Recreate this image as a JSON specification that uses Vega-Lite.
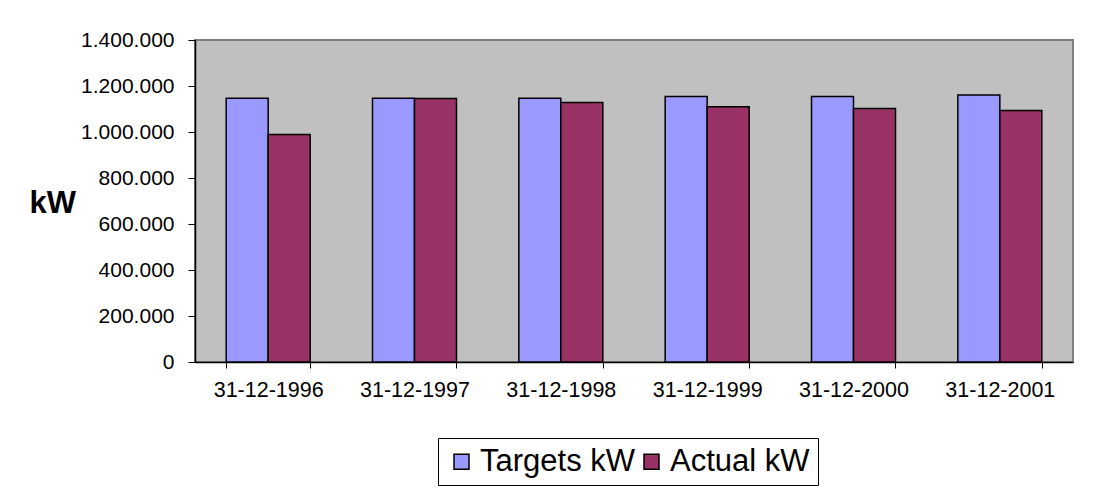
{
  "$schema": "https://vega.github.io/schema/vega-lite/v6.json",
  "autosize": {"type": "none"},
  "padding": {"left": 195, "top": 40, "right": 20, "bottom": 134},
  "width": 878,
  "height": 322,
  "background": "white",
  "data": {
    "values": [
      {"date": "31-12-1996", "series": "Targets kW", "kw": 1147000},
      {"date": "31-12-1996", "series": "Actual kW", "kw": 989000},
      {"date": "31-12-1997", "series": "Targets kW", "kw": 1147000},
      {"date": "31-12-1997", "series": "Actual kW", "kw": 1146000},
      {"date": "31-12-1998", "series": "Targets kW", "kw": 1147000},
      {"date": "31-12-1998", "series": "Actual kW", "kw": 1128000},
      {"date": "31-12-1999", "series": "Targets kW", "kw": 1154000},
      {"date": "31-12-1999", "series": "Actual kW", "kw": 1110000},
      {"date": "31-12-2000", "series": "Targets kW", "kw": 1154000},
      {"date": "31-12-2000", "series": "Actual kW", "kw": 1102000},
      {"date": "31-12-2001", "series": "Targets kW", "kw": 1161000},
      {"date": "31-12-2001", "series": "Actual kW", "kw": 1093000}
    ]
  },
  "mark": {"type": "bar", "stroke": "black", "strokeWidth": 1.5},
  "encoding": {
    "x": {
      "field": "date",
      "type": "nominal",
      "scale": {"paddingInner": 0.426, "paddingOuter": 0.213},
      "axis": {
        "title": null,
        "labelAngle": 0,
        "labelFont": "Liberation Sans",
        "labelFontSize": 21.5,
        "labelColor": "black",
        "labelPadding": 11,
        "tickBand": "extent",
        "tickSize": 6,
        "tickColor": "black",
        "domainColor": "black",
        "domainWidth": 1.5
      }
    },
    "xOffset": {
      "field": "series",
      "type": "nominal",
      "scale": {"domain": ["Targets kW", "Actual kW"], "paddingInner": 0, "paddingOuter": 0}
    },
    "y": {
      "field": "kw",
      "type": "quantitative",
      "scale": {"domain": [0, 1400000], "nice": false},
      "axis": {
        "values": [0, 200000, 400000, 600000, 800000, 1000000, 1200000, 1400000],
        "labelExpr": "replace(format(datum.value, ','), regexp(',', 'g'), '.')",
        "grid": false,
        "labelFont": "Liberation Sans",
        "labelFontSize": 21,
        "labelColor": "black",
        "labelPadding": 14,
        "tickSize": 7,
        "tickColor": "black",
        "domainColor": "black",
        "domainWidth": 1.5,
        "title": "kW",
        "titleAngle": 0,
        "titleFont": "Liberation Sans",
        "titleFontSize": 31,
        "titleFontWeight": "bold",
        "titleColor": "black",
        "titleAlign": "left",
        "titleBaseline": "middle",
        "titleX": -166,
        "titleY": 163
      }
    },
    "color": {
      "field": "series",
      "type": "nominal",
      "scale": {"domain": ["Targets kW", "Actual kW"], "range": ["#9999FF", "#993366"]},
      "legend": {
        "title": null,
        "orient": "none",
        "legendX": 243,
        "legendY": 398,
        "direction": "horizontal",
        "symbolType": "square",
        "symbolSize": 225,
        "symbolStrokeColor": "black",
        "symbolStrokeWidth": 1.5,
        "labelFont": "Liberation Sans",
        "labelFontSize": 31,
        "labelColor": "black",
        "labelOffset": 3,
        "columnPadding": 0,
        "strokeColor": "black",
        "fillColor": "white",
        "padding": 8
      }
    }
  },
  "config": {
    "view": {"fill": "#C0C0C0", "stroke": "#808080", "strokeWidth": 2}
  }
}
